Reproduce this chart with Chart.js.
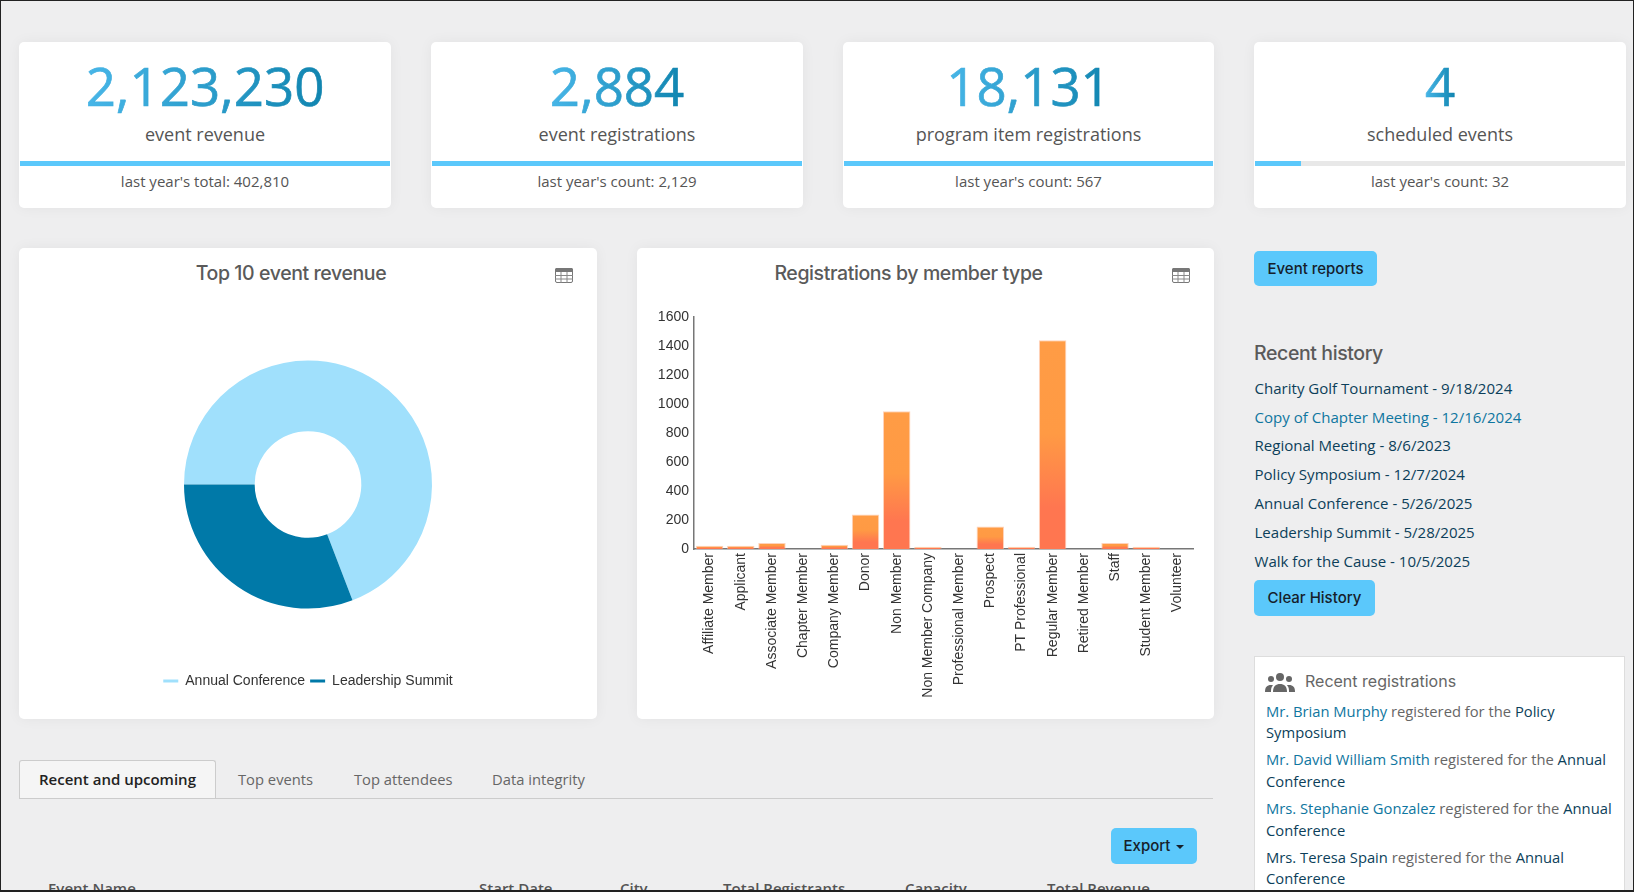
<!DOCTYPE html>
<html>
<head>
<meta charset="utf-8">
<title>Event dashboard</title>
<script src="https://cdn.jsdelivr.net/npm/chart.js@4"></script>
<style>
html, body { margin: 0; padding: 0; }
body { width: 1634px; height: 892px; overflow: hidden; background: #eeeeef; font-family: "Open Sans", sans-serif; color: #555; position: relative; }
.frame { position: absolute; left: 0; top: 0; width: 1634px; height: 892px; box-sizing: border-box; border: 1px solid #222; border-bottom-width: 2px; pointer-events: none; z-index: 5; }
.card { position: absolute; background: #fff; border-radius: 5px; box-shadow: 0 0 14px rgba(0,0,0,.05); }
.kpi { top: 42px; height: 166px; text-align: center; overflow: hidden; }
.kpi .num { position: absolute; left: 0; right: 0; top: 13px; font-size: 52.8px; line-height: 62px; font-weight: 500; }
.kpi .num span { background: linear-gradient(90deg, #47b6e8, #1085b0); -webkit-background-clip: text; background-clip: text; color: transparent; -webkit-text-stroke: 0.7px rgba(0,0,0,.02); }
.kpi .lab { position: absolute; left: 0; right: 0; top: 79px; font-size: 18px; line-height: 26px; }
.kpi .bar { position: absolute; left: 1px; right: 1px; top: 119px; height: 5px; background: #e8e8e8; }
.kpi .bar div { height: 100%; background: #5bc8fb; }
.kpi .foot { position: absolute; left: 0; right: 0; top: 128px; font-size: 15px; line-height: 22px; }
.title { position: absolute; left: 0; right: 34px; top: 12px; text-align: center; font-family: Inter, sans-serif; font-weight: 500; font-size: 19.5px; line-height: 26px; letter-spacing: -0.4px; color: #5a5a5a; }
.tbl { position: absolute; top: 20px; width: 18px; height: 15px; }
canvas { position: absolute; }
.btn { position: absolute; background: #5bc8fb; border-radius: 5px; color: #16202a; font-family: Inter, sans-serif; font-size: 15px; font-weight: 500; text-align: center; }
.caret { display: inline-block; width: 0; height: 0; margin-left: 2px; vertical-align: 2px; border-top: 4px solid #16202a; border-left: 4px solid transparent; border-right: 4px solid transparent; }
h3 { position: absolute; margin: 0; font-family: Inter, sans-serif; font-weight: 500; font-size: 19.5px; letter-spacing: -0.4px; color: #5a5a5a; line-height: 26px; }
.hist { position: absolute; left: 1254.5px; font-size: 15.05px; line-height: 22px; color: #0c3f5a; white-space: nowrap; }
.panel { position: absolute; left: 1254px; top: 656px; width: 371px; height: 240px; background: #fff; border: 1px solid #ddd; box-sizing: border-box; }
.panel .head { position: absolute; left: 50px; top: 13px; font-family: Inter, sans-serif; font-size: 16px; line-height: 22px; color: #666; }
.panel svg { position: absolute; left: 10px; top: 15px; }
.reg { position: absolute; left: 11px; width: 352px; font-size: 14.75px; line-height: 21px; color: #666; }
.reg a { color: #0f76a0; }
.reg b { color: #0c3f5a; font-weight: 400; }
.tab { position: absolute; top: 760px; height: 38px; line-height: 38px; font-size: 14.75px; white-space: nowrap; color: #666; }
.tab.on { left: 19px; width: 197px; box-sizing: border-box; background: #f5f5f5; border: 1px solid #ccc; border-bottom: 0; border-radius: 3px 3px 0 0; text-align: center; color: #222; font-weight: 600; font-size: 15px; line-height: 37px; }
.rule { position: absolute; left: 19px; top: 798px; width: 1194px; height: 1px; background: #ccc; }
.th { position: absolute; top: 878px; font-size: 15px; line-height: 20px; font-weight: 600; color: #555; white-space: nowrap; }
</style>
</head>
<body>

<div class="card kpi" style="left:19px;width:372px">
  <div class="num"><span>2,123,230</span></div><div class="lab">event revenue</div>
  <div class="bar"><div style="width:100%"></div></div><div class="foot">last year's total: 402,810</div>
</div>
<div class="card kpi" style="left:431px;width:372px">
  <div class="num"><span>2,884</span></div><div class="lab">event registrations</div>
  <div class="bar"><div style="width:100%"></div></div><div class="foot">last year's count: 2,129</div>
</div>
<div class="card kpi" style="left:843px;width:371px">
  <div class="num"><span>18,131</span></div><div class="lab">program item registrations</div>
  <div class="bar"><div style="width:100%"></div></div><div class="foot">last year's count: 567</div>
</div>
<div class="card kpi" style="left:1254px;width:372px">
  <div class="num"><span>4</span></div><div class="lab">scheduled events</div>
  <div class="bar"><div style="width:12.5%"></div></div><div class="foot">last year's count: 32</div>
</div>

<div class="card" style="left:19px;top:248px;width:578px;height:471px">
  <div class="title">Top 10 event revenue</div>
  <svg class="tbl" style="left:536px" viewBox="0 0 18 15"><rect x=".5" y=".5" width="17" height="14" rx="1.5" fill="#fff" stroke="#777"/><rect x="0" y="0" width="18" height="4" rx="1.5" fill="#777"/><path d="M6 4v11M12 4v11M0 7.5h18M0 11h18" stroke="#888" fill="none"/></svg>
</div>
<div class="card" style="left:637px;top:248px;width:577px;height:471px">
  <div class="title">Registrations by member type</div>
  <svg class="tbl" style="left:535px" viewBox="0 0 18 15"><rect x=".5" y=".5" width="17" height="14" rx="1.5" fill="#fff" stroke="#777"/><rect x="0" y="0" width="18" height="4" rx="1.5" fill="#777"/><path d="M6 4v11M12 4v11M0 7.5h18M0 11h18" stroke="#888" fill="none"/></svg>
</div>
<div style="position:absolute;left:19px;top:300px;width:578px;height:398px"><canvas id="pieChart"></canvas></div>
<div style="position:absolute;left:637px;top:300px;width:577px;height:419px"><canvas id="barChart"></canvas></div>

<div class="btn" style="left:1254px;top:251px;width:123px;height:35px;line-height:35px">Event reports</div>
<h3 style="left:1254px;top:340px">Recent history</h3>
<div class="hist" style="top:377px">Charity Golf Tournament - 9/18/2024</div>
<div class="hist" style="top:406px;color:#0f76a0">Copy of Chapter Meeting - 12/16/2024</div>
<div class="hist" style="top:434px">Regional Meeting - 8/6/2023</div>
<div class="hist" style="top:463px">Policy Symposium - 12/7/2024</div>
<div class="hist" style="top:492px">Annual Conference - 5/26/2025</div>
<div class="hist" style="top:521px">Leadership Summit - 5/28/2025</div>
<div class="hist" style="top:550px">Walk for the Cause - 10/5/2025</div>
<div class="btn" style="left:1254px;top:580px;width:121px;height:36px;line-height:36px">Clear History</div>

<div class="panel">
  <svg width="30" height="20" viewBox="0 0 30 20" fill="#666"><circle cx="15" cy="5" r="4"/><path d="M8 20c0-6 3-8 7-8s7 2 7 8z"/><circle cx="6" cy="7" r="3"/><path d="M0 20c0-5 2-7 6-7 1 0 2 .3 2 .5C6 15 6 18 6 20z"/><circle cx="24" cy="7" r="3"/><path d="M30 20c0-5-2-7-6-7-1 0-2 .3-2 .5 2 1.500 2 4.500 2 6.500z"/></svg>
  <div class="head">Recent registrations</div>
  <div class="reg" style="top:44px"><a>Mr. Brian Murphy</a> registered for the <b>Policy Symposium</b></div>
  <div class="reg" style="top:92px;line-height:21.6px"><a>Mr. David William Smith</a> registered for the <b>Annual Conference</b></div>
  <div class="reg" style="top:141px;line-height:21.6px"><a>Mrs. Stephanie Gonzalez</a> registered for the <b>Annual Conference</b></div>
  <div class="reg" style="top:190px"><b>Mrs. Teresa Spain</b> registered for the <b>Annual Conference</b></div>
</div>

<div class="tab on">Recent and upcoming</div>
<div class="tab" style="left:238px">Top events</div>
<div class="tab" style="left:354px">Top attendees</div>
<div class="tab" style="left:492px">Data integrity</div>
<div class="rule"></div>
<div class="btn" style="left:1111px;top:828px;width:86px;height:36px;line-height:36px">Export <span class="caret"></span></div>

<div class="th" style="left:48px">Event Name</div>
<div class="th" style="left:479px">Start Date</div>
<div class="th" style="left:620px">City</div>
<div class="th" style="left:723px">Total Registrants</div>
<div class="th" style="left:905px">Capacity</div>
<div class="th" style="left:1047px">Total Revenue</div>

<div class="frame"></div>

<script>
const eventNames = ["Annual Conference", "Leadership Summit"];
const eventRevenue = [1468400, 654830];
const eventColors = ["#a0e0fc", "#0079a8"];

const memberTypes = ["Affiliate Member", "Applicant", "Associate Member", "Chapter Member", "Company Member", "Donor", "Non Member", "Non Member Company", "Professional Member", "Prospect", "PT Professional", "Regular Member", "Retired Member", "Staff", "Student Member", "Volunteer"];
const memberCounts = [22, 22, 42, 0, 30, 238, 950, 16, 0, 156, 16, 1440, 0, 42, 16, 0];

// same look in both charts
Chart.defaults.font.family = '"Liberation Sans", Arial, sans-serif';
Chart.defaults.font.size = 14;
Chart.defaults.color = "#333";
Chart.defaults.animation = false;

new Chart(document.getElementById("pieChart"), {
    type: "doughnut",
    data: {
        labels: eventNames,
        datasets: [{
            data: eventRevenue,
            backgroundColor: eventColors,
            borderWidth: 0
        }]
    },
    options: {
        responsive: true,
        maintainAspectRatio: false,
        rotation: -90,
        radius: 124,
        cutout: "43%",
        plugins: {
            tooltip: { enabled: false },
            legend: {
                position: "bottom",
                labels: { boxWidth: 15, boxHeight: 3, padding: 5 }
            }
        }
    }
});

// each bar fades from orange to a redder tone towards the axis
function barGradient(context) {
    const chart = context.chart;
    if (!chart.chartArea || context.parsed == null) return "#ff9a42";
    const yScale = chart.scales.y;
    const top = yScale.getPixelForValue(context.parsed.y);
    const bottom = yScale.getPixelForValue(0);
    if (bottom - top < 1) return "#ff9a42";
    const g = chart.ctx.createLinearGradient(0, top, 0, bottom);
    g.addColorStop(0, "#ff9c45");
    g.addColorStop(0.45, "#ff9a44");
    g.addColorStop(0.8, "#ff7650");
    g.addColorStop(1, "#ff7650");
    return g;
}

new Chart(document.getElementById("barChart"), {
    type: "bar",
    data: {
        labels: memberTypes,
        datasets: [{
            data: memberCounts,
            backgroundColor: barGradient,
            borderColor: "rgba(255,180,140,.6)",
            borderWidth: 1,
            barPercentage: 0.88,
            categoryPercentage: 1
        }]
    },
    options: {
        responsive: true,
        maintainAspectRatio: false,
        layout: { padding: { top: 17, right: 21, left: 0, bottom: 0 } },
        plugins: {
            legend: { display: false },
            tooltip: { enabled: false }
        },
        scales: {
            x: {
                grid: { display: false, drawTicks: false },
                border: { color: "#777", width: 1.5 },
                ticks: { minRotation: 90, maxRotation: 90, autoSkip: false, padding: 4, color: "#333", font: { size: 14 } },
                afterFit: function(scale) { scale.height = 170; }
            },
            y: {
                min: 0,
                max: 1600,
                grid: { display: false, drawTicks: false },
                border: { color: "#777", width: 1.5 },
                ticks: { stepSize: 200, padding: 5, color: "#333", font: { size: 14 }, callback: function(v) { return String(v); } },
                afterFit: function(scale) { scale.width = 57; }
            }
        }
    }
});
</script>
</body>
</html>
